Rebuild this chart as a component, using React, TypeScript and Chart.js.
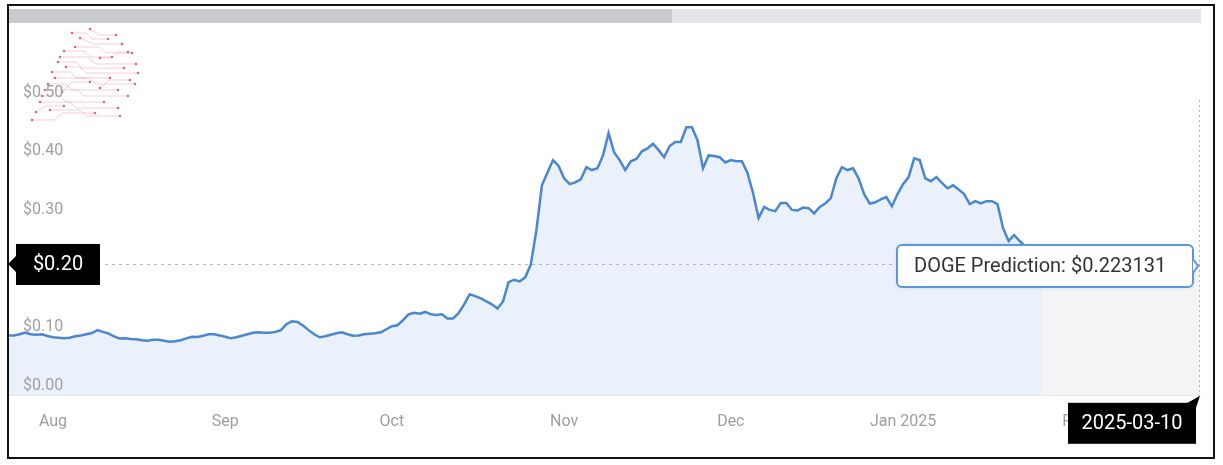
import React, { useEffect, useRef } from 'react';
import { Chart, registerables } from 'chart.js';

Chart.register(...registerables);

// ---- data ----
const BASE_DATE = '2024-08-01';
const PRICE_START_DATE = '2024-07-24';
// daily DOGE price (USD) from PRICE_START_DATE
const prices: number[] = [
  0.103, 0.103, 0.105, 0.108, 0.105, 0.104, 0.105, 0.102,
  0.100, 0.099, 0.098, 0.099, 0.1015, 0.103, 0.105, 0.107, 0.112, 0.109,
  0.106, 0.1015, 0.0976, 0.098, 0.097, 0.0964, 0.0947, 0.0939, 0.0956, 0.0956,
  0.0939, 0.0922, 0.093, 0.0947, 0.098, 0.1007, 0.1003, 0.1024, 0.105, 0.105,
  0.103, 0.1007, 0.098, 0.0998, 0.1024, 0.105, 0.1075, 0.1084, 0.1075, 0.1075,
  0.109, 0.112, 0.122, 0.127, 0.126, 0.120, 0.112, 0.105, 0.0998, 0.1015,
  0.104, 0.1067, 0.1084, 0.105, 0.1024, 0.103, 0.105, 0.1058, 0.1067, 0.1084,
  0.1135, 0.1186, 0.1203, 0.129, 0.139, 0.1416, 0.140, 0.143, 0.139, 0.138,
  0.139, 0.132, 0.132, 0.141, 0.156, 0.173, 0.170, 0.166, 0.161, 0.156,
  0.149, 0.161, 0.194, 0.198, 0.195, 0.202, 0.224, 0.282, 0.359, 0.381,
  0.402, 0.392, 0.371, 0.361, 0.364, 0.369, 0.39, 0.385, 0.388, 0.41,
  0.448, 0.415, 0.402, 0.385, 0.40, 0.404, 0.417, 0.422, 0.43, 0.419,
  0.407, 0.426, 0.433, 0.433, 0.458, 0.458, 0.436, 0.388, 0.41, 0.409,
  0.407, 0.398, 0.402, 0.40, 0.40, 0.38, 0.346, 0.303, 0.322, 0.317,
  0.315, 0.329, 0.329, 0.317, 0.316, 0.321, 0.32, 0.311, 0.322, 0.328,
  0.337, 0.371, 0.39, 0.385, 0.388, 0.371, 0.344, 0.328, 0.33, 0.335,
  0.339, 0.323, 0.344, 0.361, 0.373, 0.405, 0.402, 0.371, 0.366, 0.373,
  0.363, 0.354, 0.359, 0.352, 0.344, 0.327, 0.332, 0.328, 0.332, 0.332,
  0.327, 0.286, 0.264, 0.274, 0.264, 0.255, 0.245, 0.238, 0.235,
];
const predictionDates = ['2025-01-26', '2025-03-10'];
const predictionValues = [0.235, 0.223131];
const predictionText = 'DOGE Prediction: $0.223131';
const predictionAxisText = '$0.20';
const predictionDateText = '2025-03-10';

const monthTickDates = ['2024-08-01', '2024-09-01', '2024-10-01', '2024-11-01', '2024-12-01', '2025-01-01', '2025-02-01'];
const monthTickLabels = ['Aug', 'Sep', 'Oct', 'Nov', 'Dec', 'Jan 2025', 'Feb'];
const X_MIN_DAYS = -7.92;
const X_MAX_DAYS = 206.45;
const Y_MIN = 0;
const Y_MAX = 0.6;
const Y_STEP = 0.1;
const Y_LABEL_MAX = 0.5;

const dayOf = (s: string) => (Date.parse(s) - Date.parse(BASE_DATE)) / 86400000;
const priceStart = dayOf(PRICE_START_DATE);
const priceData = prices.map((v, i) => ({ x: priceStart + i, y: v }));
const predictionData = predictionDates.map((d, i) => ({ x: dayOf(d), y: predictionValues[i] }));
const monthTickDays = monthTickDates.map(dayOf);

// decorative logo traces (top-left watermark)
const logoTraces: number[][][] = [
  [[72, 33], [86, 33], [92, 39], [108, 39]],
  [[90, 29], [100, 35], [116, 35]],
  [[80, 38], [94, 44], [122, 44]],
  [[75, 47], [100, 47], [106, 53], [132, 53]],
  [[64, 51], [84, 51], [90, 57], [112, 57]],
  [[60, 57], [88, 57], [95, 64], [136, 64]],
  [[58, 62], [76, 62], [82, 68], [124, 68]],
  [[66, 67], [80, 67], [86, 73], [138, 73]],
  [[52, 72], [70, 72], [76, 78], [110, 78]],
  [[55, 78], [90, 78], [96, 84], [135, 84]],
  [[48, 84], [66, 84], [72, 90], [118, 90]],
  [[45, 90], [78, 90], [84, 96], [128, 96]],
  [[42, 96], [60, 96], [66, 102], [104, 102]],
  [[40, 102], [70, 102], [76, 108], [118, 108]],
  [[50, 110], [80, 110], [86, 116], [120, 116]],
  [[32, 120], [55, 120], [62, 113], [95, 113]],
  [[100, 58], [112, 58], [118, 52], [128, 52]],
  [[62, 92], [72, 82], [90, 82]],
  [[100, 88], [110, 80], [130, 80]],
  [[36, 112], [46, 106], [64, 106]],
];

const overlayPlugin = {
  id: 'overlay',
  beforeDraw(chart: any) {
    const ctx = chart.ctx;
    ctx.save();
    ctx.fillStyle = '#ffffff';
    ctx.fillRect(0, 0, chart.width, chart.height);
    // scrollbar
    ctx.fillStyle = '#e3e4e6';
    ctx.fillRect(9, 9, 1192, 14);
    ctx.fillStyle = '#c9cacd';
    ctx.fillRect(9, 9, 663, 14);
    // logo
    ctx.lineWidth = 1;
    logoTraces.forEach((t) => {
      ctx.strokeStyle = 'rgba(240,130,150,0.4)';
      ctx.beginPath();
      t.forEach((p, i) => (i ? ctx.lineTo(p[0], p[1]) : ctx.moveTo(p[0], p[1])));
      ctx.stroke();
      ctx.fillStyle = 'rgba(215,40,70,0.7)';
      [t[0], t[t.length - 1]].forEach((p) => {
        ctx.beginPath();
        ctx.arc(p[0], p[1], 1.3, 0, Math.PI * 2);
        ctx.fill();
      });
    });
    ctx.restore();
  },
  afterDatasetsDraw(chart: any) {
    const ctx = chart.ctx;
    const { left, right, bottom } = chart.chartArea;
    const yPx = chart.scales.y.getPixelForValue(predictionValues[predictionValues.length - 1]);
    ctx.save();
    ctx.strokeStyle = '#b5b5b5';
    ctx.lineWidth = 1;
    ctx.setLineDash([3, 4]);
    ctx.beginPath();
    ctx.moveTo(left + 96, yPx - 0.5);
    ctx.lineTo(right, yPx - 0.5);
    ctx.stroke();
    ctx.setLineDash([2, 3]);
    ctx.beginPath();
    ctx.moveTo(right - 0.5, 100);
    ctx.lineTo(right - 0.5, bottom);
    ctx.stroke();
    ctx.restore();
  },
  afterDraw(chart: any) {
    const ctx = chart.ctx;
    const { left, right, bottom } = chart.chartArea;
    const yPx = chart.scales.y.getPixelForValue(predictionValues[predictionValues.length - 1]) - 1;
    ctx.save();
    // axis value label
    ctx.fillStyle = '#000000';
    ctx.fillRect(left + 7, yPx - 20, 84, 41);
    ctx.beginPath();
    ctx.moveTo(left - 1, yPx);
    ctx.lineTo(left + 7, yPx - 8);
    ctx.lineTo(left + 7, yPx + 8);
    ctx.closePath();
    ctx.fill();
    ctx.fillStyle = '#ffffff';
    ctx.font = '20px Roboto';
    ctx.textAlign = 'center';
    ctx.textBaseline = 'middle';
    ctx.fillText(predictionAxisText, left + 49, yPx + 1);

    // tooltip
    const tx = 897, tw = 296, th = 42;
    const ty = yPx - 19;
    ctx.shadowColor = 'rgba(0,0,0,0.15)';
    ctx.shadowBlur = 4;
    ctx.fillStyle = '#ffffff';
    ctx.strokeStyle = '#5b97de';
    ctx.lineWidth = 2;
    ctx.beginPath();
    ctx.roundRect(tx, ty, tw, th, 5);
    ctx.fill();
    ctx.shadowBlur = 0;
    ctx.stroke();
    ctx.beginPath();
    ctx.moveTo(tx + tw, ty + 14);
    ctx.lineTo(tx + tw + 5, ty + 21);
    ctx.lineTo(tx + tw, ty + 28);
    ctx.fillStyle = '#ffffff';
    ctx.fill();
    ctx.stroke();
    ctx.fillStyle = '#333333';
    ctx.font = '20px Roboto';
    ctx.textAlign = 'left';
    ctx.fillText(predictionText, tx + 17, ty + th / 2 + 1);

    // date label
    ctx.fillStyle = '#000000';
    ctx.fillRect(right - 132, bottom + 7, 128, 41);
    ctx.beginPath();
    ctx.moveTo(right - 14, bottom + 8);
    ctx.lineTo(right, bottom);
    ctx.lineTo(right - 4, bottom + 12);
    ctx.closePath();
    ctx.fill();
    ctx.fillStyle = '#ffffff';
    ctx.font = '20px Roboto';
    ctx.textAlign = 'center';
    ctx.fillText(predictionDateText, right - 68, bottom + 28);

    // frame
    ctx.strokeStyle = '#111111';
    ctx.lineWidth = 2;
    ctx.strokeRect(8, 5, 1206, 453);
    ctx.restore();
  },
};

export default function App() {
  const ref = useRef<HTMLCanvasElement>(null);
  useEffect(() => {
    const chart = new Chart(ref.current as HTMLCanvasElement, {
      type: 'line',
      data: {
        datasets: [
          {
            label: 'Prediction',
            data: predictionData,
            borderWidth: 0,
            borderColor: 'rgba(0,0,0,0)',
            backgroundColor: '#f4f4f4',
            fill: 'origin',
            pointRadius: 0,
            order: 2,
          },
          {
            label: 'DOGE',
            data: priceData,
            borderColor: '#4a87d2',
            borderWidth: 2.5,
            backgroundColor: '#eaf1fb',
            fill: 'origin',
            pointRadius: 0,
            tension: 0,
            order: 1,
          },
        ],
      },
      options: {
        responsive: false,
        animation: false,
        layout: { padding: { left: 9, right: 23, top: 44, bottom: 16 } },
        plugins: { legend: { display: false }, tooltip: { enabled: false } },
        scales: {
          x: {
            type: 'linear',
            min: X_MIN_DAYS,
            max: X_MAX_DAYS,
            grid: { display: false, drawTicks: false },
            border: { display: true, color: '#e2e2e2', width: 1 },
            afterBuildTicks: (s: any) => {
              s.ticks = monthTickDays.map((v) => ({ value: v }));
            },
            ticks: {
              autoSkip: false,
              maxRotation: 0,
              padding: 17,
              color: '#9e9e9e',
              font: { family: 'Roboto', size: 16 },
              callback: (v: any) => {
                const i = monthTickDays.findIndex((d) => Math.abs(d - v) < 0.01);
                return i >= 0 ? monthTickLabels[i] : '';
              },
            },
          },
          y: {
            min: Y_MIN,
            max: Y_MAX,
            afterFit: (s: any) => {
              s.width = 0;
            },
            grid: { display: false, drawTicks: false },
            border: { display: false },
            ticks: {
              z: 1,
              stepSize: Y_STEP,
              mirror: true,
              padding: 14,
              labelOffset: -10,
              color: '#a0a0a0',
              font: { family: 'Roboto', size: 16 },
              callback: (v: any) => (v > Y_LABEL_MAX + 0.001 ? '' : '$' + Number(v).toFixed(2)),
            },
          },
        },
      },
      plugins: [overlayPlugin],
    } as any);
    return () => chart.destroy();
  }, []);
  return (
    <canvas
      ref={ref}
      width={1223}
      height={465}
      style={{ position: 'absolute', left: 0, top: 0, width: 1223, height: 465 }}
    />
  );
}
